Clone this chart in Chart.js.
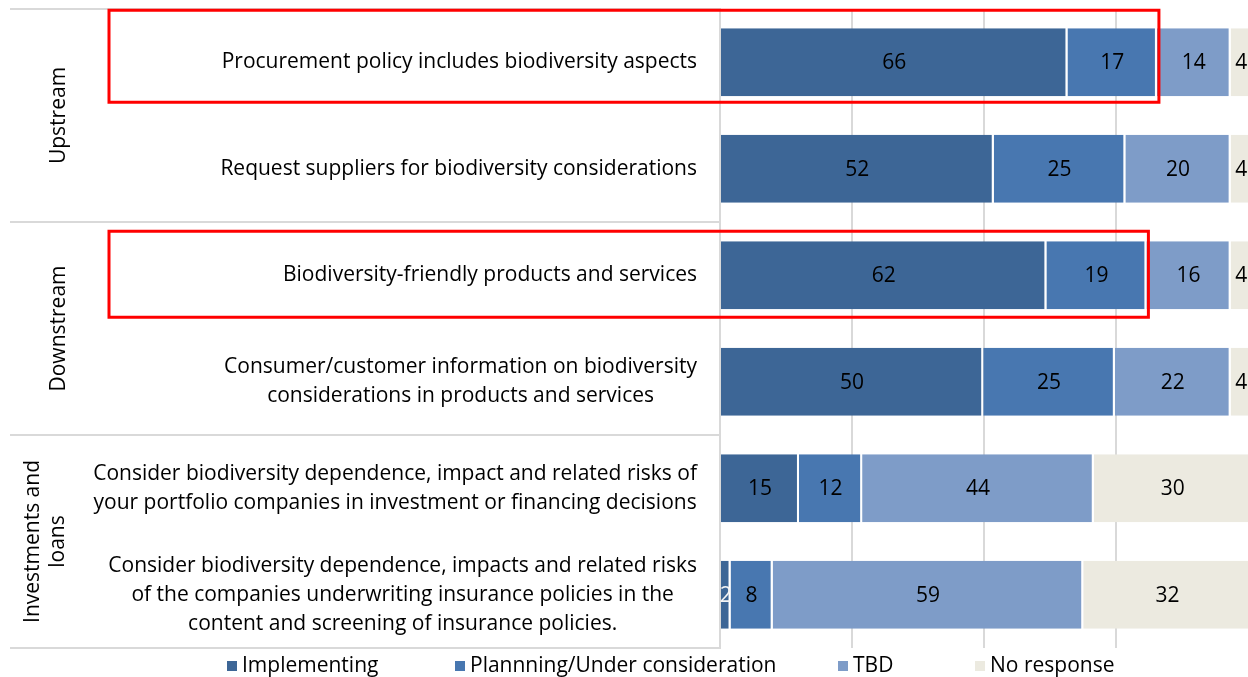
<!DOCTYPE html>
<html>
<head>
<meta charset="utf-8">
<script src="https://cdn.jsdelivr.net/npm/chart.js@4.4.0/dist/chart.umd.min.js"></script>
<style>
  html, body { margin: 0; padding: 0; background: #fff; overflow: hidden; }
  #wrap { width: 1248px; height: 677px; position: relative; }
</style>
</head>
<body>
<div id="wrap"><canvas id="chart" width="1248" height="677"></canvas></div>
<script>
const categories = [
    ['Procurement policy includes biodiversity aspects'],
    ['Request suppliers for biodiversity considerations'],
    ['Biodiversity-friendly products and services'],
    ['Consumer/customer information on biodiversity', 'considerations in products and services'],
    ['Consider biodiversity dependence, impact and related risks of', 'your portfolio companies in investment or financing decisions'],
    ['Consider biodiversity dependence, impacts and related risks', 'of the companies underwriting insurance policies in the', 'content and screening of insurance policies.']
];
const groups = [
    { label: ['Upstream'], from: 0, to: 1 },
    { label: ['Downstream'], from: 2, to: 3 },
    { label: ['Investments and', 'loans'], from: 4, to: 5 }
];
const seriesNames = ['Implementing', 'Plannning/Under consideration', 'TBD', 'No response'];
const implementing = [66, 52, 62, 50, 15, 2];
const planning = [17, 25, 19, 25, 12, 8];
const tbd = [14, 20, 16, 22, 44, 59];
const noResponse = [4, 4, 4, 4, 30, 32];
const highlighted = [0, 2]; // rows boxed in red

const colors = ['#3d6696', '#4877b0', '#7e9cc8', '#eceae0'];
const FONT = '"Open Sans", "DejaVu Sans", sans-serif';
const SIZE = 21;

// Labels, group titles, dividers, red boxes, legend
const decorPlugin = {
    id: 'decor',
    afterDatasetsDraw(chart) {
        const ctx = chart.ctx;
        const y = chart.scales.y, x = chart.scales.x;
        const area = chart.chartArea;
        const half = (y.getPixelForValue(1) - y.getPixelForValue(0)) / 2;

        // value labels in bars
        ctx.save();
        ctx.font = SIZE + 'px ' + FONT;
        ctx.textAlign = 'center';
        ctx.textBaseline = 'middle';
        chart.data.datasets.forEach((ds, di) => {
            const meta = chart.getDatasetMeta(di);
            meta.data.forEach((bar, i) => {
                const w = Math.abs(bar.x - bar.base);
                const txt = String(ds.data[i]);
                const cx = (bar.x + bar.base) / 2;
                ctx.fillStyle = ctx.measureText(txt).width > w ? '#f4f4f4' : '#000';
                ctx.fillText(txt, cx, bar.y + 1);
            });
        });
        ctx.restore();

        // category labels (lines centred, block right edge near axis)
        ctx.save();
        ctx.font = SIZE + 'px ' + FONT;
        ctx.fillStyle = '#000';
        ctx.textAlign = 'center';
        ctx.textBaseline = 'middle';
        const lineH = 29;
        categories.forEach((lines, i) => {
            const cy = y.getPixelForValue(i);
            const maxW = Math.max(...lines.map(l => ctx.measureText(l).width));
            const cx = area.left - 23 - maxW / 2;
            lines.forEach((l, k) => {
                ctx.fillText(l, cx, cy + (k - (lines.length - 1) / 2) * lineH);
            });
        });
        ctx.restore();

        // dividers between groups
        ctx.save();
        ctx.strokeStyle = '#d9d9d9';
        ctx.lineWidth = 2;
        const bounds = [area.top].concat(groups.map(g => y.getPixelForValue(g.to) + half));
        bounds.forEach(b => {
            ctx.beginPath();
            ctx.moveTo(10, b);
            ctx.lineTo(area.left, b);
            ctx.stroke();
        });
        ctx.restore();

        // group titles, rotated
        ctx.save();
        ctx.font = SIZE + 'px ' + FONT;
        ctx.fillStyle = '#000';
        ctx.textAlign = 'center';
        ctx.textBaseline = 'middle';
        groups.forEach(g => {
            const cy = (y.getPixelForValue(g.from) + y.getPixelForValue(g.to)) / 2;
            ctx.save();
            ctx.translate(g.label.length > 1 ? 46 : 59, cy);
            ctx.rotate(-Math.PI / 2);
            g.label.forEach((l, k) => {
                ctx.fillText(l, 0, (k - (g.label.length - 1) / 2) * 25);
            });
            ctx.restore();
        });
        ctx.restore();

        // red boxes
        ctx.save();
        ctx.strokeStyle = '#ff0000';
        ctx.lineWidth = 3;
        highlighted.forEach((r, n) => {
            const cy = y.getPixelForValue(r);
            const right = x.getPixelForValue(implementing[r] + planning[r]) + 2;
            const top = n === 0 ? cy - 52 : cy - 44;
            const bottom = n === 0 ? cy + 40 : cy + 42;
            ctx.strokeRect(109, top, right - 109, bottom - top);
        });
        ctx.restore();

        // legend
        ctx.save();
        ctx.font = SIZE + 'px ' + FONT;
        ctx.textBaseline = 'middle';
        ctx.textAlign = 'left';
        const legendX = [227, 455, 838, 975];
        const ly = 666;
        seriesNames.forEach((name, i) => {
            ctx.fillStyle = colors[i];
            ctx.fillRect(legendX[i], ly - 5, 10, 10);
            ctx.fillStyle = '#000';
            ctx.fillText(name, legendX[i] + 15, ly);
        });
        ctx.restore();
    }
};

const series = [implementing, planning, tbd, noResponse];

new Chart(document.getElementById('chart'), {
    type: 'bar',
    data: {
        labels: categories.map(c => c.join(' ')),
        datasets: series.map((d, i) => ({
            label: seriesNames[i],
            data: d,
            backgroundColor: colors[i],
            borderColor: '#ffffff',
            borderWidth: { right: 2 },
            borderSkipped: false,
            categoryPercentage: 1,
            barPercentage: 0.64
        }))
    },
    options: {
        indexAxis: 'y',
        responsive: false,
        animation: false,
        layout: { padding: { left: 720, top: 9, right: 0, bottom: 29 } },
        plugins: { legend: { display: false }, tooltip: { enabled: false } },
        scales: {
            x: {
                stacked: true,
                min: 0,
                max: 100.3,
                ticks: { display: false, stepSize: 25 },
                grid: {
                    color: c => (c.tick && c.tick.value > 0 && c.tick.value < 100) ? '#d9d9d9' : 'rgba(0,0,0,0)',
                    lineWidth: 2,
                    drawTicks: false
                },
                border: { display: false },
                afterFit(s) { s.height = 0; }
            },
            y: {
                stacked: true,
                ticks: { display: false },
                grid: { display: false, drawTicks: false },
                border: { display: true, color: '#d9d9d9', width: 2 },
                afterFit(s) { s.width = 0; }
            }
        }
    },
    plugins: [decorPlugin]
});
</script>
</body>
</html>
